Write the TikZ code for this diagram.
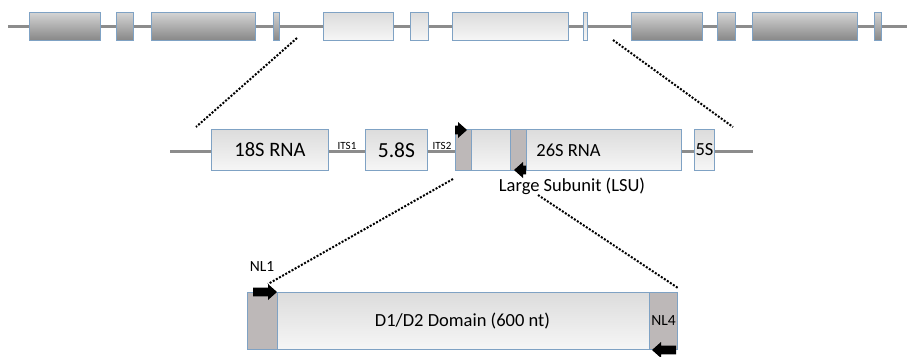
\documentclass[tikz,border=0pt]{standalone}
\usepackage{fontspec}
\setmainfont{Carlito}
\definecolor{edgeblue}{HTML}{7FA2C4}
\definecolor{spacergray}{HTML}{8C8C8C}
\definecolor{primergray}{HTML}{BDB8B8}
\definecolor{exondark}{HTML}{878787}
\definecolor{exonlight}{HTML}{D4D4D4}
\definecolor{rnatop}{HTML}{DCDCDC}
\definecolor{rnabottom}{HTML}{F6F6F6}
\tikzset{
    gene/.style={draw=edgeblue, line width=0.9pt, inner sep=0pt, anchor=north west},
    darkexon/.style={gene, top color=exonlight, bottom color=exondark, minimum height=28pt},
    lightexon/.style={gene, top color=rnatop, bottom color=rnabottom, minimum height=28pt},
    rnabox/.style={gene, top color=rnatop, bottom color=rnabottom, minimum height=41pt},
    primersite/.style={gene, fill=primergray},
    spacer/.style={draw=spacergray, line width=3pt},
    zoomline/.style={line width=2pt, dash pattern=on 2pt off 1.6pt},
}
% block arrow pointing to +x, tail at the origin
\newcommand{\primerarrow}[1]{
    \fill (0,-4.3) -- (#1-9,-4.3) -- (#1-9,-8) -- (#1,0) -- (#1-9,8) -- (#1-9,4.3) -- (0,4.3) -- cycle;
}

\begin{document}
\begin{tikzpicture}[x=1pt, y=-1pt]
    \useasboundingbox (0,0) rectangle (907,356);
    % draw the whole repeat: spacer line and exons
    \coordinate (rowstart) at (8,26);
    \coordinate (rowend) at (907,26);
    \draw[spacer] (rowstart) -- (rowend);
    \node[darkexon, minimum width=71pt] (t1) at (29,12) {};
    \node[darkexon, minimum width=17pt] (t2) at (116,12) {};
    \node[darkexon, minimum width=104pt] (t3) at (151,12) {};
    \node[darkexon, minimum width=6pt] (t4) at (273,12) {};
    \node[lightexon, minimum width=70pt] (t5) at (323,12) {};
    \node[lightexon, minimum width=18pt] (t6) at (410,12) {};
    \node[lightexon, minimum width=116pt] (t7) at (452,12) {};
    \node[lightexon, minimum width=4pt] (t8) at (583,12) {};
    \node[darkexon, minimum width=71pt] (t9) at (631,12) {};
    \node[darkexon, minimum width=18pt] (t10) at (717,12) {};
    \node[darkexon, minimum width=105pt] (t11) at (752,12) {};
    \node[darkexon, minimum width=7pt] (t12) at (874,12) {};

    % draw the rDNA unit
    \coordinate (unitstart) at (170,151);
    \coordinate (unitend) at (753,151);
    \draw[spacer] (unitstart) -- (unitend);
    \node[rnabox, minimum width=117pt, font=\fontsize{20.5}{20}\selectfont] (ssu) at (211,129) {18S RNA};
    \node[rnabox, minimum width=62pt, font=\fontsize{21.5}{21}\selectfont] (rna58) at (365,129) {5.8S};
    \node[rnabox, minimum width=226pt, font=\fontsize{18.5}{18}\selectfont] (rna26) at (455,129) {26S RNA};
    \node[rnabox, minimum width=20pt, font=\fontsize{18.5}{18}\selectfont] (rna5) at (694,129) {5S};
    \node[primersite, minimum width=16pt, minimum height=41pt] (lsufwd) at (455,129) {};
    \node[primersite, minimum width=16pt, minimum height=41pt] (lsurev) at (510,129) {};
    \node[font=\fontsize{11}{11}\selectfont] (its1) at (347,146) {ITS1};
    \node[font=\fontsize{11}{11}\selectfont] (its2) at (442,146) {ITS2};
    \node[font=\fontsize{18.5}{18}\selectfont] (lsu) at (572,186) {Large Subunit (LSU)};
    % primer arrows on the LSU
    \begin{scope}[shift={(455,130)}]
        \primerarrow{12}
    \end{scope}
    \begin{scope}[shift={(526,170)}, xscale=-1]
        \primerarrow{12}
    \end{scope}

    % draw the D1/D2 region
    \node[rnabox, minimum width=430pt, minimum height=57pt, font=\fontsize{18.5}{18}\selectfont] (d1d2) at (247,292) {D1/D2 Domain (600 nt)};
    \node[primersite, minimum width=30pt, minimum height=57pt] (nl1site) at (247,292) {};
    \node[primersite, minimum width=28pt, minimum height=57pt, font=\fontsize{15.5}{15}\selectfont] (nl4) at (649,292) {NL4};
    \node[font=\fontsize{15.5}{15}\selectfont] (nl1) at (262,267) {NL1};
    \begin{scope}[shift={(253,292)}]
        \primerarrow{24}
    \end{scope}
    \begin{scope}[shift={(676,350)}, xscale=-1]
        \primerarrow{24}
    \end{scope}

    % dotted zoom lines
    \coordinate (zoomA) at (297,38);
    \coordinate (zoomB) at (196,127);
    \coordinate (zoomC) at (613,40);
    \coordinate (zoomD) at (733,127);
    \coordinate (zoomE) at (453,179);
    \coordinate (zoomF) at (268,284);
    \coordinate (zoomG) at (538,195);
    \coordinate (zoomH) at (678,288);
    \draw[zoomline] (zoomA) -- (zoomB);
    \draw[zoomline] (zoomC) -- (zoomD);
    \draw[zoomline] (zoomE) -- (zoomF);
    \draw[zoomline] (zoomG) -- (zoomH);
\end{tikzpicture}
\end{document}
